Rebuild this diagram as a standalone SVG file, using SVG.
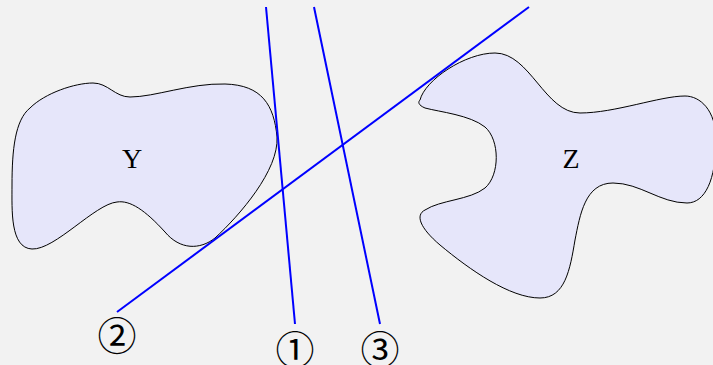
<svg xmlns="http://www.w3.org/2000/svg" width="713" height="365" viewBox="0 0 713 365">
<style>
.blob{fill:#e6e6fa;stroke:#000;stroke-width:1}
.lbl{font-family:"Liberation Serif","Times New Roman",serif;font-size:28px;fill:#000;text-anchor:middle}
.num{font-family:"DejaVu Serif","Noto Sans CJK JP",serif;font-size:39px;fill:#000;text-anchor:middle}
.ln{stroke:#0000ff;stroke-width:2;fill:none}
</style>
<rect width="713" height="365" fill="#f2f2f2"/>
<g id="Y">
<path class="blob" d="M93,83 C108,83 115,97 130,97 C155,97 190,83 225,84 C262,85 274,105 277,137 C279,170 240,215 215,238 C200,250 180,250 165,232 C145,210 130,200 117,202 C95,204 55,250 32,249 C10,248 12,210 12,185 C12,150 15,120 30,108 C45,93 75,83 93,83 Z"/>
<text class="lbl" x="132" y="168">Y</text>
</g>
<g id="Z">
<path class="blob" d="M420,100 C425,80 465,53 495,53 C530,53 545,113 580,113 C615,113 660,96 685,96 C700,96 716,110 716,140 C716,180 705,203 687,203 C660,203 640,183 613,183 C585,183 580,215 575,240 C570,270 565,298 540,298 C510,298 470,270 440,245 C420,228 415,215 425,210 C440,200 470,200 485,188 C500,175 500,140 485,127 C470,115 440,112 425,108 C418,105 418,102 420,100 Z"/>
<text class="lbl" x="571" y="168">Z</text>
</g>
<g id="connectors">
<line class="ln" x1="266" y1="7" x2="295" y2="324"/>
<line class="ln" x1="314" y1="7" x2="380" y2="324"/>
<line class="ln" x1="529" y1="7" x2="117" y2="312"/>
</g>
<g id="labels">
<text class="num" x="117" y="350">②</text>
<text class="num" x="295" y="364">①</text>
<text class="num" x="380" y="364">③</text>
</g>
</svg>
